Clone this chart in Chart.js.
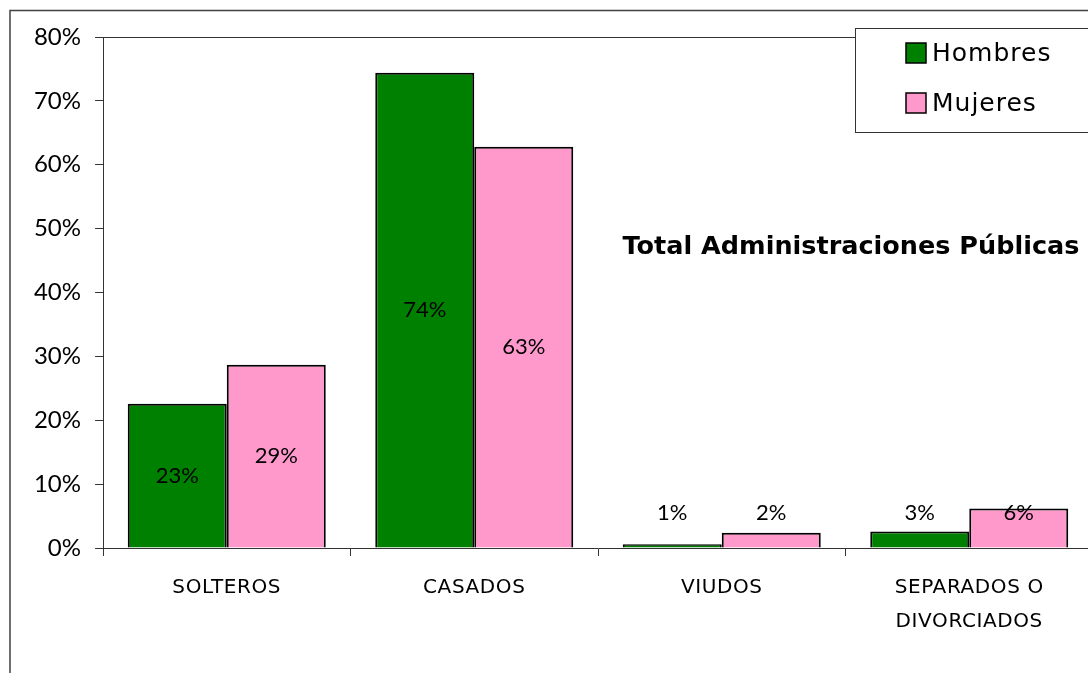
<!DOCTYPE html>
<html>
<head>
<meta charset="utf-8">
<script src="https://cdn.jsdelivr.net/npm/chart.js@4.4.1/dist/chart.umd.min.js"></script>
<style>
  html, body { margin: 0; padding: 0; background: #fff; overflow: hidden; }
  #wrap { position: relative; width: 1100px; height: 673px; }
</style>
</head>
<body>
<div id="wrap"><canvas id="c" width="1100" height="673"></canvas></div>
<script>
// Estado civil del personal, por sexo (porcentaje)
const categories = [['SOLTEROS'], ['CASADOS'], ['VIUDOS'], ['SEPARADOS O', 'DIVORCIADOS']];
const hombres = [22.6, 74.4, 0.6, 2.6];
const mujeres = [28.7, 62.8, 2.4, 6.2];
const seriesNames = ['Hombres', 'Mujeres'];
const seriesColors = ['#008000', '#FF99CC'];
const yTicks = [0, 10, 20, 30, 40, 50, 60, 70, 80];
const heading = 'Total Administraciones Públicas';

const FONT = '"DejaVu Sans", sans-serif';
const NUMFONT = 'Lato, "DejaVu Sans", sans-serif';

// Outer frame, plot border, category labels, value labels, heading and legend box
const decorations = {
  id: 'decorations',
  beforeDraw(chart) {
    const ctx = chart.ctx;
    ctx.save();
    ctx.fillStyle = '#fff';
    ctx.fillRect(0, 0, chart.width, chart.height);
    ctx.strokeStyle = '#404040';
    ctx.lineWidth = 1.5;
    ctx.beginPath();
    ctx.moveTo(10, chart.height);
    ctx.lineTo(10, 10.5);
    ctx.lineTo(chart.width, 10.5);
    ctx.stroke();
    ctx.restore();
  },
  afterDatasetsDraw(chart) {
    const ctx = chart.ctx;
    const a = chart.chartArea;
    const xs = chart.scales.x;
    const hasSpacing = 'letterSpacing' in ctx;
    ctx.save();
    // plot area top border
    ctx.strokeStyle = '#333';
    ctx.lineWidth = 1;
    ctx.beginPath();
    ctx.moveTo(a.left, Math.round(a.top) + 0.5);
    ctx.lineTo(a.right, Math.round(a.top) + 0.5);
    ctx.stroke();

    // category labels
    ctx.fillStyle = '#000';
    ctx.font = '20px ' + FONT;
    ctx.textAlign = 'center';
    ctx.textBaseline = 'middle';
    if (hasSpacing) ctx.letterSpacing = '0.6px';
    chart.data.labels.forEach((lines, i) => {
      const x = xs.getPixelForValue(i);
      lines.forEach((t, k) => ctx.fillText(t, x, a.bottom + 40 + k * 34));
    });
    if (hasSpacing) ctx.letterSpacing = '0px';

    // value labels
    ctx.font = '22px ' + NUMFONT;
    chart.data.datasets.forEach((ds, i) => {
      chart.getDatasetMeta(i).data.forEach((bar, j) => {
        const mid = (bar.y + bar.base) / 2;
        const y = Math.min(mid, bar.base - 35);
        ctx.fillText(Math.round(ds.data[j]) + '%', bar.x, y);
      });
    });

    // heading inside the plot
    ctx.font = 'bold 25.5px ' + FONT;
    ctx.fillText(heading, 851, 247);

    // legend box
    ctx.fillStyle = '#fff';
    ctx.fillRect(855, 28, 260, 104);
    ctx.strokeStyle = '#333';
    ctx.lineWidth = 1;
    ctx.strokeRect(855.5, 28.5, 260, 104);
    ctx.font = '25px ' + FONT;
    ctx.textAlign = 'left';
    if (hasSpacing) ctx.letterSpacing = '1px';
    chart.data.datasets.forEach((ds, i) => {
      const cy = 53 + i * 50;
      ctx.fillStyle = ds.backgroundColor;
      ctx.fillRect(906, cy - 10, 20, 20);
      ctx.strokeStyle = '#000';
      ctx.lineWidth = 1.5;
      ctx.strokeRect(906, cy - 10, 20, 20);
      ctx.fillStyle = '#000';
      ctx.fillText(ds.label, 932, cy + 1);
    });
    if (hasSpacing) ctx.letterSpacing = '0px';
    ctx.restore();
  }
};

new Chart(document.getElementById('c'), {
  type: 'bar',
  data: {
    labels: categories,
    datasets: [
      { label: seriesNames[0], data: hombres, backgroundColor: seriesColors[0], borderColor: '#000', borderWidth: 2 },
      { label: seriesNames[1], data: mujeres, backgroundColor: seriesColors[1], borderColor: '#000', borderWidth: 2 }
    ]
  },
  options: {
    responsive: false,
    animation: false,
    devicePixelRatio: 1,
    categoryPercentage: 0.8,
    barPercentage: 1.0,
    layout: { padding: { left: 0, top: 37, right: 7, bottom: 0 } },
    plugins: { legend: { display: false }, tooltip: { enabled: false }, title: { display: false } },
    scales: {
      x: {
        grid: { offset: true, drawOnChartArea: false, tickLength: 8, color: '#333', tickColor: '#333' },
        border: { display: true, color: '#333', width: 1 },
        ticks: { color: 'rgba(0,0,0,0)', font: { family: FONT, size: 20 }, padding: 12, maxRotation: 0, autoSkip: false },
        afterFit(scale) { scale.height = 125; }
      },
      y: {
        min: 0,
        max: 80,
        afterBuildTicks(scale) { scale.ticks = yTicks.map(v => ({ value: v })); },
        grid: { drawOnChartArea: false, tickLength: 8, color: '#333', tickColor: '#333' },
        border: { display: true, color: '#333', width: 1 },
        ticks: { color: '#000', font: { family: NUMFONT, size: 24 }, padding: 14, callback: v => v + '%' },
        afterFit(scale) { scale.width = 103; }
      }
    }
  },
  plugins: [decorations]
});
</script>
</body>
</html>
